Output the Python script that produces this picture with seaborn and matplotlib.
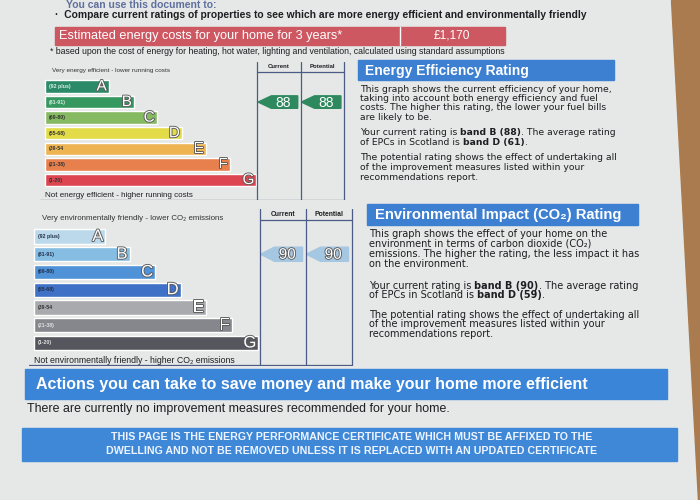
import matplotlib.pyplot as plt
import matplotlib.patheffects as pe
from matplotlib.patches import Polygon, Rectangle
import seaborn as sns

# Rating bands shared by both graphs
bands = ['A', 'B', 'C', 'D', 'E', 'F', 'G']
band_ranges = ['(92 plus)', '(81-91)', '(69-80)', '(55-68)', '(39-54', '(21-38)', '(1-20)']
band_lower = [92, 81, 69, 55, 39, 21, 1]

# Bar lengths (relative) as printed on the certificate
energy_lengths = [2.65, 3.7, 4.65, 5.7, 6.7, 7.7, 8.8]
env_lengths = [2.8, 3.75, 4.75, 5.75, 6.75, 7.75, 8.8]

energy_colors = ['#2b8a68', '#35995f', '#86ba62', '#e3dc48', '#eeb452', '#e8804e', '#dd4650']
env_colors = ['#bcd9ec', '#86bde3', '#4f92d8', '#3f72c6', '#a9aaad', '#86878d', '#55565e']
energy_label_colors = ['#d8eee4', '#d8eee4', '#333333', '#333333', '#333333', '#333333', '#333333']
env_label_colors = ['#22304a', '#22304a', '#22304a', '#22304a', '#333333', '#e0e0e0', '#e0e0e0']

energy_current, energy_potential = 88, 88
env_current, env_potential = 90, 90
energy_cost = '£1,170'

paper = '#e5e8e6'
ink = '#1e1e22'
blue = '#3d80d2'

sns.set_style('white')
plt.rcParams['font.family'] = ['Liberation Sans', 'DejaVu Sans']

fig = plt.figure(figsize=(7, 5), dpi=100, facecolor=paper)
bg = fig.add_axes([0, 0, 1, 1])
bg.set_xlim(0, 700)
bg.set_ylim(500, 0)
bg.axis('off')
bg.add_patch(Polygon([(671, 0), (700, 0), (700, 500), (698, 500)], color='#a97b4f'))


def px_rect(left, top, width, height):
    return [left / 700, 1 - (top + height) / 500, width / 700, height / 500]


def rich_line(x, y, parts, size):
    fam = ['DejaVu Sans']
    t = bg.text(x, y, parts[0][0], fontsize=size, fontweight=parts[0][1],
                va='bottom', ha='left', color=ink, family=fam)
    for s, w in parts[1:]:
        t = bg.annotate(s, xy=(1, 0), xycoords=t, va='bottom', ha='left',
                        fontsize=size, fontweight=w, color=ink, family=fam)


def band_index(value):
    for i, low in enumerate(band_lower):
        if value >= low:
            return i
    return len(bands) - 1


def rating_graph(ax, lengths, colors, label_colors, current, potential, arrow_color,
                 top_text, bottom_text, small, top_size, bottom_size, letter_size,
                 outline_numbers):
    sns.barplot(x=lengths, y=bands, hue=bands, palette=colors, legend=False,
                orient='h', width=0.8, saturation=1, ax=ax)
    col_l, col_m, col_r = 8.85, 10.65, 12.45
    ax.set_xlim(-0.2, 12.7)
    ax.set_ylim(7.3, -1.55)
    ax.axis('off')
    line = '#4b5a86'
    for cx in (col_l, col_m, col_r):
        ax.plot([cx, cx], [-1.55, 7.25], color=line, lw=0.9)
    ax.plot([col_l, col_r], [-0.95, -0.95], color=line, lw=0.9)
    ax.plot([-0.2, col_r], [7.25, 7.25], color=line, lw=0.9)
    ax.text((col_l + col_m) / 2, -1.25, 'Current', ha='center', va='center',
            fontsize=small, fontweight='bold', color=ink)
    ax.text((col_m + col_r) / 2, -1.25, 'Potential', ha='center', va='center',
            fontsize=small, fontweight='bold', color=ink)
    ax.text(0.3, -1.0, top_text, fontsize=top_size, va='center', color='#333333')
    ax.text(0.0, 7.0, bottom_text, fontsize=bottom_size, va='center', color=ink)
    stroke = [pe.withStroke(linewidth=1.3, foreground='#5a5a5a')]
    for i, (b, r) in enumerate(zip(bands, band_ranges)):
        ax.text(0.15, i, r, fontsize=3.8, fontweight='bold', va='center',
                color=label_colors[i])
        ax.text(lengths[i] - 0.08, i, b, fontsize=letter_size, ha='right',
                va='center', color='white', path_effects=stroke)
    h = 0.8
    for value, x0, x1 in ((current, col_l + 0.03, col_m - 0.12),
                          (potential, col_m + 0.03, col_r - 0.12)):
        y = band_index(value)
        ax.add_patch(Polygon([(x0, y), (x0 + 0.55, y - h / 2), (x1, y - h / 2),
                              (x1, y + h / 2), (x0 + 0.55, y + h / 2)],
                             closed=True, color=arrow_color))
        ax.text((x0 + 0.45 + x1) / 2, y + 0.03, str(value), ha='center', va='center',
                fontsize=letter_size - 1, color='white',
                path_effects=stroke if outline_numbers else None)


# ---------------- Top of the page ---------------- #
bg.text(66, 5, 'You can use this document to:', fontsize=7.5, fontweight='bold',
        color='#5f6f9e', va='center')
bg.text(55, 15.5, '·  Compare current ratings of properties to see which are more energy '
        'efficient and environmentally friendly', fontsize=7.4, fontweight='bold',
        color=ink, va='center')
bg.add_patch(Rectangle((55, 27), 450, 18, color='#cd5862'))
bg.plot([400, 400], [27, 45], color='white', lw=1)
bg.text(59, 36.5, 'Estimated energy costs for your home for 3 years*', fontsize=9.2,
        color='white', va='center')
bg.text(452, 36, energy_cost, fontsize=8.6, color='white', va='center', ha='center')
bg.text(50, 52, '* based upon the cost of energy for heating, hot water, lighting and '
        'ventilation, calculated using standard assumptions', fontsize=6.3,
        color=ink, va='center')

# ---------------- Energy Efficiency Rating ---------------- #
ax1 = fig.add_axes(px_rect(40.2, 62.3, 309.6, 138))
rating_graph(ax1, energy_lengths, energy_colors, energy_label_colors,
             energy_current, energy_potential, '#2e8a5e',
             'Very energy efficient - lower running costs',
             'Not energy efficient - higher running costs', 4.3, 4.6, 5.8, 11, False)

bg.add_patch(Rectangle((358, 60), 256, 20, color=blue))
bg.text(365, 70.5, 'Energy Efficiency Rating', fontsize=10, fontweight='bold',
        color='white', va='center')
for y, parts in [
        (94, [('This graph shows the current efficiency of your home,', 'normal')]),
        (103, [('taking into account both energy efficiency and fuel', 'normal')]),
        (112, [('costs. The higher this rating, the lower your fuel bills', 'normal')]),
        (122, [('are likely to be.', 'normal')]),
        (137, [('Your current rating is ', 'normal'), ('band B (88)', 'bold'),
               ('. The average rating', 'normal')]),
        (147, [('of EPCs in Scotland is ', 'normal'), ('band D (61)', 'bold'), ('.', 'normal')]),
        (162, [('The potential rating shows the effect of undertaking all', 'normal')]),
        (172, [('of the improvement measures listed within your', 'normal')]),
        (182, [('recommendations report.', 'normal')])]:
    rich_line(360, y, parts, 6.7)

# ---------------- Environmental Impact Rating ---------------- #
ax2 = fig.add_axes(px_rect(28.9, 209, 329, 157))
rating_graph(ax2, env_lengths, env_colors, env_label_colors,
             env_current, env_potential, '#a6c7e2',
             'Very environmentally friendly - lower CO₂ emissions',
             'Not environmentally friendly - higher CO₂ emissions', 4.9, 5.7, 6.3, 12, True)

bg.add_patch(Rectangle((367, 204), 271, 21, color=blue))
bg.text(375, 215, 'Environmental Impact (CO₂) Rating', fontsize=10.6, fontweight='bold',
        color='white', va='center')
for y, parts in [
        (239, [('This graph shows the effect of your home on the', 'normal')]),
        (249, [('environment in terms of carbon dioxide (CO₂)', 'normal')]),
        (259, [('emissions. The higher the rating, the less impact it has', 'normal')]),
        (269, [('on the environment.', 'normal')]),
        (291, [('Your current rating is ', 'normal'), ('band B (90)', 'bold'),
               ('. The average rating', 'normal')]),
        (300, [('of EPCs in Scotland is ', 'normal'), ('band D (59)', 'bold'), ('.', 'normal')]),
        (320, [('The potential rating shows the effect of undertaking all', 'normal')]),
        (329, [('of the improvement measures listed within your', 'normal')]),
        (339, [('recommendations report.', 'normal')])]:
    rich_line(369, y, parts, 7.0)

# ---------------- Bottom of the page ---------------- #
bg.add_patch(Rectangle((25, 369), 642, 30, color='#3a85d7'))
bg.text(36, 385, 'Actions you can take to save money and make your home more efficient',
        fontsize=11.5, fontweight='bold', color='white', va='center')
bg.text(27, 409, 'There are currently no improvement measures recommended for your home.',
        fontsize=8.9, color=ink, va='center')
bg.add_patch(Rectangle((22, 428), 655, 33, color='#3f88d8'))
bg.text(352, 437.5, 'THIS PAGE IS THE ENERGY PERFORMANCE CERTIFICATE WHICH MUST BE AFFIXED TO THE',
        fontsize=7.7, fontweight='bold', color='#eef4ff', va='center', ha='center')
bg.text(352, 451, 'DWELLING AND NOT BE REMOVED UNLESS IT IS REPLACED WITH AN UPDATED CERTIFICATE',
        fontsize=7.7, fontweight='bold', color='#eef4ff', va='center', ha='center')

fig.savefig('out.png', dpi=100, facecolor=paper)
